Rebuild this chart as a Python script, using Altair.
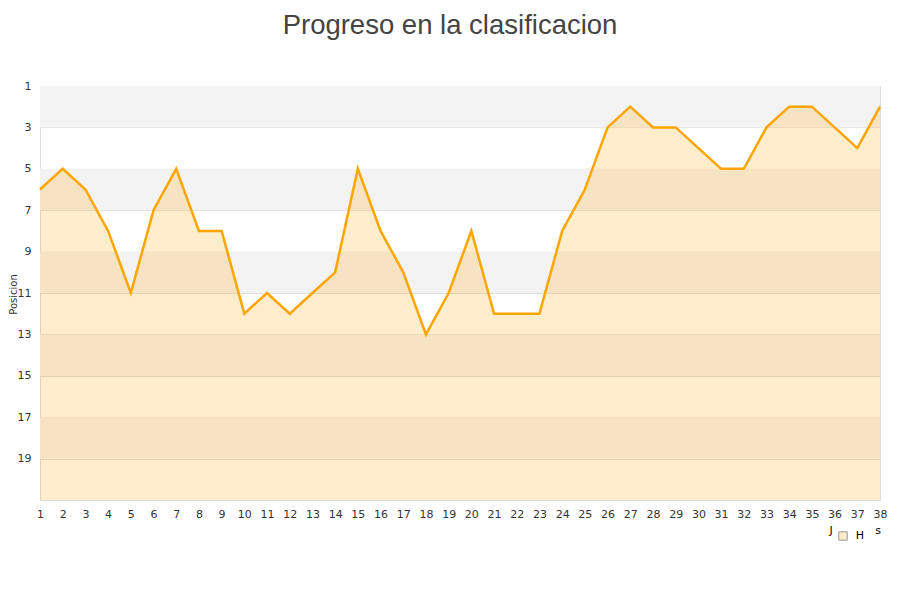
import altair as alt
import pandas as pd

jornadas = list(range(1, 39))
posiciones = [6, 5, 6, 8, 11, 7, 5, 8, 8, 12, 11, 12, 11, 10, 5, 8, 10, 13, 11, 8,
              12, 12, 12, 8, 6, 3, 2, 3, 3, 4, 5, 5, 3, 2, 2, 3, 4, 2]
band_start = [1, 5, 9, 13, 17]
band_end = [3, 7, 11, 15, 19]
y_ticks = [1, 3, 5, 7, 9, 11, 13, 15, 17, 19]

df = pd.DataFrame({"jornada": jornadas, "pos": posiciones})
bands = pd.DataFrame({"y1": band_start, "y2": band_end})

W, H = 840, 414
xscale = alt.Scale(domain=[1, 38], nice=False, zero=False)
yscale = alt.Scale(domain=[1, 21], reverse=True, nice=False, zero=False)

xaxis = alt.Axis(values=jornadas, title=None, grid=False, ticks=False,
                 domain=False, labelFontSize=11, labelColor="#333",
                 labelPadding=8, labelFlush=False, labelOverlap=False)

band_layer = alt.Chart(bands).mark_rect(color="#f3f3f3").encode(
    x=alt.datum(1, scale=xscale, axis=xaxis),
    x2=alt.datum(38),
    y=alt.Y("y1:Q", scale=yscale),
    y2="y2:Q",
)

area = alt.Chart(df).mark_area(color="#ffa500", opacity=0.2).encode(
    x=alt.X("jornada:Q", scale=xscale, axis=xaxis),
    y=alt.Y("pos:Q", scale=yscale,
            axis=alt.Axis(values=y_ticks, title="Posicion", grid=True,
                          gridColor="#dddddd", ticks=False, domain=False,
                          labelFontSize=11, labelColor="#333", labelPadding=9,
                          labelOverlap=False,
                          titleFontSize=10, titleFontWeight="normal",
                          titleColor="#333", titleX=-22, titleY=208,
                          titleAngle=270, titleBaseline="bottom", titleAlign="center")),
    y2=alt.datum(21),
)

line = alt.Chart(df).mark_line(color="#ffa500", strokeWidth=2.5).encode(
    x=alt.X("jornada:Q", scale=xscale, axis=xaxis),
    y=alt.Y("pos:Q", scale=yscale),
)

legend_txt = pd.DataFrame({"t": ["J", "H", "s"], "px": [791, 820, 838], "py": [445, 450, 445]})
leg_text = alt.Chart(legend_txt).mark_text(fontSize=11, color="#000", font="DejaVu Sans").encode(
    x=alt.X("px:Q", scale=None), y=alt.Y("py:Q", scale=None), text="t:N"
)
leg_sq = alt.Chart(pd.DataFrame({"px": [803], "py": [450]})).mark_point(
    shape="square", size=70, filled=True, fill="#ffedcc", stroke="#999", strokeWidth=1, opacity=1
).encode(x=alt.X("px:Q", scale=None), y=alt.Y("py:Q", scale=None))

chart = alt.layer(band_layer, area, line, leg_text, leg_sq).properties(
    width=W, height=H,
    title=alt.Title("Progreso en la clasificacion", fontSize=27.5, fontWeight="normal",
                    color="#444", font="Liberation Sans", anchor="middle",
                    baseline="alphabetic", offset=19, dx=-10),
    autosize="none",
    padding={"left": 32, "top": 78, "right": 12, "bottom": 90},
).configure_view(stroke="#dddddd").configure_axis(
    labelFont="DejaVu Sans", titleFont="DejaVu Sans"
).configure_axisX(labelOverlap=False)

chart.save("out.html", embed_options={"renderer": "svg", "actions": False})
